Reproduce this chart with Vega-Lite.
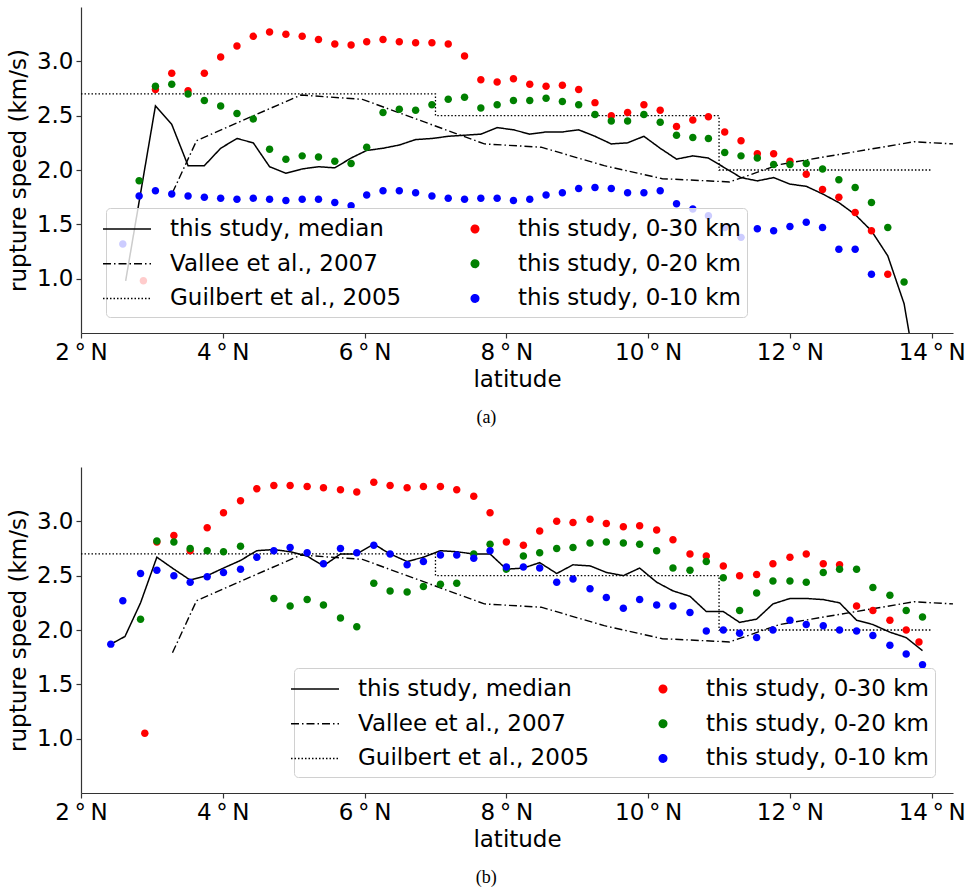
{
"$schema": "https://vega.github.io/schema/vega-lite/v6.json",
"background": "white",
"padding": {"left": 7, "top": 7, "right": 5, "bottom": 5},
"config": {
  "view": {"stroke": null},
  "font": "DejaVu Sans",
  "axis": {"labelFont": "DejaVu Sans", "labelFontSize": 23, "labelColor": "#000", "titleFont": "DejaVu Sans", "titleFontSize": 23, "titleFontWeight": "normal", "titleColor": "#000", "grid": false, "domainColor": "#333", "domainWidth": 1.2, "tickColor": "#333", "tickWidth": 1.2, "tickSize": 5, "labelFlush": false, "labelOverlap": false},
  "legend": {"orient": "none", "direction": "vertical", "columns": 2, "columnPadding": 58, "rowPadding": 7.7, "padding": 6, "fillColor": "rgba(255,255,255,0.8)", "strokeColor": "#d0d0d0", "strokeWidth": 1, "cornerRadius": 4, "labelFont": "DejaVu Sans", "labelFontSize": 23, "labelColor": "#000", "labelOffset": 28, "labelLimit": 400, "symbolSize": 812, "symbolStrokeWidth": 1.5}
},
"datasets": {
  "ref": [
    {"series": "guilbert", "ord": 1, "lat": 2, "speed": 2.7},
    {"series": "guilbert", "ord": 2, "lat": 7, "speed": 2.7},
    {"series": "guilbert", "ord": 3, "lat": 7, "speed": 2.5},
    {"series": "guilbert", "ord": 4, "lat": 11, "speed": 2.5},
    {"series": "guilbert", "ord": 5, "lat": 11, "speed": 2.0},
    {"series": "guilbert", "ord": 6, "lat": 14, "speed": 2.0},
    {"series": "vallee", "lat": 3.29, "speed": 1.79},
    {"series": "vallee", "lat": 3.63, "speed": 2.27},
    {"series": "vallee", "lat": 5.10, "speed": 2.69},
    {"series": "vallee", "lat": 5.97, "speed": 2.65},
    {"series": "vallee", "lat": 7.69, "speed": 2.24},
    {"series": "vallee", "lat": 8.49, "speed": 2.21},
    {"series": "vallee", "lat": 9.38, "speed": 2.04},
    {"series": "vallee", "lat": 10.2, "speed": 1.92},
    {"series": "vallee", "lat": 11.15, "speed": 1.89},
    {"series": "vallee", "lat": 11.85, "speed": 2.05},
    {"series": "vallee", "lat": 13.75, "speed": 2.26},
    {"series": "vallee", "lat": 14.3, "speed": 2.24}
  ],
  "a": [
    {"series": "median", "lat": 2.63, "speed": 0.98}, {"series": "median", "lat": 3.05, "speed": 2.59}, {"series": "median", "lat": 3.28, "speed": 2.42}, {"series": "median", "lat": 3.51, "speed": 2.04}, {"series": "median", "lat": 3.74, "speed": 2.04}, {"series": "median", "lat": 3.97, "speed": 2.20}, {"series": "median", "lat": 4.20, "speed": 2.29}, {"series": "median", "lat": 4.43, "speed": 2.25}, {"series": "median", "lat": 4.66, "speed": 2.03}, {"series": "median", "lat": 4.89, "speed": 1.97}, {"series": "median", "lat": 5.12, "speed": 2.01}, {"series": "median", "lat": 5.35, "speed": 2.03}, {"series": "median", "lat": 5.58, "speed": 2.02}, {"series": "median", "lat": 5.81, "speed": 2.11}, {"series": "median", "lat": 6.03, "speed": 2.18}, {"series": "median", "lat": 6.26, "speed": 2.20}, {"series": "median", "lat": 6.49, "speed": 2.23}, {"series": "median", "lat": 6.72, "speed": 2.28}, {"series": "median", "lat": 6.95, "speed": 2.29}, {"series": "median", "lat": 7.18, "speed": 2.31}, {"series": "median", "lat": 7.41, "speed": 2.32}, {"series": "median", "lat": 7.64, "speed": 2.33}, {"series": "median", "lat": 7.87, "speed": 2.39}, {"series": "median", "lat": 8.10, "speed": 2.37}, {"series": "median", "lat": 8.33, "speed": 2.33}, {"series": "median", "lat": 8.56, "speed": 2.35}, {"series": "median", "lat": 8.79, "speed": 2.35}, {"series": "median", "lat": 9.02, "speed": 2.37}, {"series": "median", "lat": 9.25, "speed": 2.31}, {"series": "median", "lat": 9.48, "speed": 2.24}, {"series": "median", "lat": 9.71, "speed": 2.25}, {"series": "median", "lat": 9.94, "speed": 2.31}, {"series": "median", "lat": 10.17, "speed": 2.20}, {"series": "median", "lat": 10.40, "speed": 2.10}, {"series": "median", "lat": 10.63, "speed": 2.13}, {"series": "median", "lat": 10.85, "speed": 2.11}, {"series": "median", "lat": 11.08, "speed": 2.02}, {"series": "median", "lat": 11.31, "speed": 1.93}, {"series": "median", "lat": 11.54, "speed": 1.90}, {"series": "median", "lat": 11.77, "speed": 1.93}, {"series": "median", "lat": 12.00, "speed": 1.87}, {"series": "median", "lat": 12.23, "speed": 1.85}, {"series": "median", "lat": 12.46, "speed": 1.78}, {"series": "median", "lat": 12.69, "speed": 1.70}, {"series": "median", "lat": 12.92, "speed": 1.59}, {"series": "median", "lat": 13.15, "speed": 1.44}, {"series": "median", "lat": 13.38, "speed": 1.21}, {"series": "median", "lat": 13.61, "speed": 0.77}, {"series": "median", "lat": 13.84, "speed": -0.10},
    {"series": "30", "lat": 2.88, "speed": 0.98}, {"series": "30", "lat": 3.05, "speed": 2.74}, {"series": "30", "lat": 3.28, "speed": 2.89}, {"series": "30", "lat": 3.51, "speed": 2.73}, {"series": "30", "lat": 3.74, "speed": 2.89}, {"series": "30", "lat": 3.97, "speed": 3.04}, {"series": "30", "lat": 4.20, "speed": 3.14}, {"series": "30", "lat": 4.43, "speed": 3.23}, {"series": "30", "lat": 4.66, "speed": 3.27}, {"series": "30", "lat": 4.89, "speed": 3.25}, {"series": "30", "lat": 5.12, "speed": 3.23}, {"series": "30", "lat": 5.35, "speed": 3.20}, {"series": "30", "lat": 5.58, "speed": 3.16}, {"series": "30", "lat": 5.81, "speed": 3.15}, {"series": "30", "lat": 6.03, "speed": 3.18}, {"series": "30", "lat": 6.26, "speed": 3.20}, {"series": "30", "lat": 6.49, "speed": 3.18}, {"series": "30", "lat": 6.72, "speed": 3.17}, {"series": "30", "lat": 6.95, "speed": 3.17}, {"series": "30", "lat": 7.18, "speed": 3.16}, {"series": "30", "lat": 7.41, "speed": 3.05}, {"series": "30", "lat": 7.64, "speed": 2.83}, {"series": "30", "lat": 7.87, "speed": 2.81}, {"series": "30", "lat": 8.10, "speed": 2.84}, {"series": "30", "lat": 8.33, "speed": 2.79}, {"series": "30", "lat": 8.56, "speed": 2.77}, {"series": "30", "lat": 8.79, "speed": 2.78}, {"series": "30", "lat": 9.02, "speed": 2.74}, {"series": "30", "lat": 9.25, "speed": 2.62}, {"series": "30", "lat": 9.48, "speed": 2.50}, {"series": "30", "lat": 9.71, "speed": 2.53}, {"series": "30", "lat": 9.94, "speed": 2.60}, {"series": "30", "lat": 10.17, "speed": 2.55}, {"series": "30", "lat": 10.40, "speed": 2.40}, {"series": "30", "lat": 10.63, "speed": 2.46}, {"series": "30", "lat": 10.85, "speed": 2.49}, {"series": "30", "lat": 11.08, "speed": 2.35}, {"series": "30", "lat": 11.31, "speed": 2.27}, {"series": "30", "lat": 11.54, "speed": 2.15}, {"series": "30", "lat": 11.77, "speed": 2.15}, {"series": "30", "lat": 12.00, "speed": 2.08}, {"series": "30", "lat": 12.23, "speed": 1.96}, {"series": "30", "lat": 12.46, "speed": 1.82}, {"series": "30", "lat": 12.69, "speed": 1.75}, {"series": "30", "lat": 12.92, "speed": 1.61}, {"series": "30", "lat": 13.15, "speed": 1.44}, {"series": "30", "lat": 13.38, "speed": 1.04},
    {"series": "20", "lat": 2.82, "speed": 1.90}, {"series": "20", "lat": 3.05, "speed": 2.77}, {"series": "20", "lat": 3.28, "speed": 2.79}, {"series": "20", "lat": 3.51, "speed": 2.70}, {"series": "20", "lat": 3.74, "speed": 2.64}, {"series": "20", "lat": 3.97, "speed": 2.59}, {"series": "20", "lat": 4.20, "speed": 2.52}, {"series": "20", "lat": 4.43, "speed": 2.47}, {"series": "20", "lat": 4.66, "speed": 2.19}, {"series": "20", "lat": 4.89, "speed": 2.10}, {"series": "20", "lat": 5.12, "speed": 2.13}, {"series": "20", "lat": 5.35, "speed": 2.12}, {"series": "20", "lat": 5.58, "speed": 2.08}, {"series": "20", "lat": 5.81, "speed": 2.06}, {"series": "20", "lat": 6.03, "speed": 2.21}, {"series": "20", "lat": 6.26, "speed": 2.53}, {"series": "20", "lat": 6.49, "speed": 2.56}, {"series": "20", "lat": 6.72, "speed": 2.55}, {"series": "20", "lat": 6.95, "speed": 2.60}, {"series": "20", "lat": 7.18, "speed": 2.65}, {"series": "20", "lat": 7.41, "speed": 2.67}, {"series": "20", "lat": 7.64, "speed": 2.57}, {"series": "20", "lat": 7.87, "speed": 2.60}, {"series": "20", "lat": 8.10, "speed": 2.64}, {"series": "20", "lat": 8.33, "speed": 2.64}, {"series": "20", "lat": 8.56, "speed": 2.66}, {"series": "20", "lat": 8.79, "speed": 2.63}, {"series": "20", "lat": 9.02, "speed": 2.60}, {"series": "20", "lat": 9.25, "speed": 2.51}, {"series": "20", "lat": 9.48, "speed": 2.45}, {"series": "20", "lat": 9.71, "speed": 2.45}, {"series": "20", "lat": 9.94, "speed": 2.51}, {"series": "20", "lat": 10.17, "speed": 2.44}, {"series": "20", "lat": 10.40, "speed": 2.32}, {"series": "20", "lat": 10.63, "speed": 2.30}, {"series": "20", "lat": 10.85, "speed": 2.29}, {"series": "20", "lat": 11.08, "speed": 2.16}, {"series": "20", "lat": 11.31, "speed": 2.13}, {"series": "20", "lat": 11.54, "speed": 2.11}, {"series": "20", "lat": 11.77, "speed": 2.05}, {"series": "20", "lat": 12.00, "speed": 2.05}, {"series": "20", "lat": 12.23, "speed": 2.06}, {"series": "20", "lat": 12.46, "speed": 2.01}, {"series": "20", "lat": 12.69, "speed": 1.91}, {"series": "20", "lat": 12.92, "speed": 1.84}, {"series": "20", "lat": 13.15, "speed": 1.70}, {"series": "20", "lat": 13.38, "speed": 1.47}, {"series": "20", "lat": 13.61, "speed": 0.97},
    {"series": "10", "lat": 2.59, "speed": 1.32}, {"series": "10", "lat": 2.82, "speed": 1.76}, {"series": "10", "lat": 3.05, "speed": 1.81}, {"series": "10", "lat": 3.28, "speed": 1.78}, {"series": "10", "lat": 3.51, "speed": 1.76}, {"series": "10", "lat": 3.74, "speed": 1.75}, {"series": "10", "lat": 3.97, "speed": 1.74}, {"series": "10", "lat": 4.20, "speed": 1.73}, {"series": "10", "lat": 4.43, "speed": 1.74}, {"series": "10", "lat": 4.66, "speed": 1.73}, {"series": "10", "lat": 4.89, "speed": 1.72}, {"series": "10", "lat": 5.12, "speed": 1.73}, {"series": "10", "lat": 5.35, "speed": 1.73}, {"series": "10", "lat": 5.58, "speed": 1.70}, {"series": "10", "lat": 5.81, "speed": 1.67}, {"series": "10", "lat": 6.03, "speed": 1.77}, {"series": "10", "lat": 6.26, "speed": 1.81}, {"series": "10", "lat": 6.49, "speed": 1.81}, {"series": "10", "lat": 6.72, "speed": 1.79}, {"series": "10", "lat": 6.95, "speed": 1.76}, {"series": "10", "lat": 7.18, "speed": 1.74}, {"series": "10", "lat": 7.41, "speed": 1.73}, {"series": "10", "lat": 7.64, "speed": 1.74}, {"series": "10", "lat": 7.87, "speed": 1.74}, {"series": "10", "lat": 8.10, "speed": 1.72}, {"series": "10", "lat": 8.33, "speed": 1.73}, {"series": "10", "lat": 8.56, "speed": 1.77}, {"series": "10", "lat": 8.79, "speed": 1.79}, {"series": "10", "lat": 9.02, "speed": 1.83}, {"series": "10", "lat": 9.25, "speed": 1.84}, {"series": "10", "lat": 9.48, "speed": 1.83}, {"series": "10", "lat": 9.71, "speed": 1.79}, {"series": "10", "lat": 9.94, "speed": 1.79}, {"series": "10", "lat": 10.17, "speed": 1.81}, {"series": "10", "lat": 10.40, "speed": 1.69}, {"series": "10", "lat": 10.63, "speed": 1.64}, {"series": "10", "lat": 10.85, "speed": 1.58}, {"series": "10", "lat": 11.08, "speed": 1.47}, {"series": "10", "lat": 11.31, "speed": 1.38}, {"series": "10", "lat": 11.54, "speed": 1.46}, {"series": "10", "lat": 11.77, "speed": 1.44}, {"series": "10", "lat": 12.00, "speed": 1.48}, {"series": "10", "lat": 12.23, "speed": 1.52}, {"series": "10", "lat": 12.46, "speed": 1.47}, {"series": "10", "lat": 12.69, "speed": 1.27}, {"series": "10", "lat": 12.92, "speed": 1.27}, {"series": "10", "lat": 13.15, "speed": 1.04}
  ],
  "b": [
    {"series": "median", "lat": 2.42, "speed": 1.87}, {"series": "median", "lat": 2.62, "speed": 1.94}, {"series": "median", "lat": 2.84, "speed": 2.25}, {"series": "median", "lat": 3.07, "speed": 2.67}, {"series": "median", "lat": 3.31, "speed": 2.56}, {"series": "median", "lat": 3.54, "speed": 2.46}, {"series": "median", "lat": 3.78, "speed": 2.50}, {"series": "median", "lat": 4.01, "speed": 2.57}, {"series": "median", "lat": 4.25, "speed": 2.64}, {"series": "median", "lat": 4.48, "speed": 2.73}, {"series": "median", "lat": 4.72, "speed": 2.74}, {"series": "median", "lat": 4.95, "speed": 2.72}, {"series": "median", "lat": 5.19, "speed": 2.68}, {"series": "median", "lat": 5.42, "speed": 2.59}, {"series": "median", "lat": 5.66, "speed": 2.70}, {"series": "median", "lat": 5.89, "speed": 2.70}, {"series": "median", "lat": 6.13, "speed": 2.79}, {"series": "median", "lat": 6.36, "speed": 2.70}, {"series": "median", "lat": 6.60, "speed": 2.63}, {"series": "median", "lat": 6.83, "speed": 2.67}, {"series": "median", "lat": 7.07, "speed": 2.73}, {"series": "median", "lat": 7.30, "speed": 2.72}, {"series": "median", "lat": 7.54, "speed": 2.70}, {"series": "median", "lat": 7.77, "speed": 2.70}, {"series": "median", "lat": 8.00, "speed": 2.56}, {"series": "median", "lat": 8.24, "speed": 2.57}, {"series": "median", "lat": 8.47, "speed": 2.62}, {"series": "median", "lat": 8.71, "speed": 2.52}, {"series": "median", "lat": 8.94, "speed": 2.60}, {"series": "median", "lat": 9.18, "speed": 2.59}, {"series": "median", "lat": 9.41, "speed": 2.53}, {"series": "median", "lat": 9.65, "speed": 2.50}, {"series": "median", "lat": 9.88, "speed": 2.57}, {"series": "median", "lat": 10.12, "speed": 2.44}, {"series": "median", "lat": 10.35, "speed": 2.36}, {"series": "median", "lat": 10.59, "speed": 2.31}, {"series": "median", "lat": 10.82, "speed": 2.17}, {"series": "median", "lat": 11.06, "speed": 2.17}, {"series": "median", "lat": 11.29, "speed": 2.07}, {"series": "median", "lat": 11.53, "speed": 2.10}, {"series": "median", "lat": 11.76, "speed": 2.24}, {"series": "median", "lat": 12.00, "speed": 2.29}, {"series": "median", "lat": 12.23, "speed": 2.29}, {"series": "median", "lat": 12.47, "speed": 2.28}, {"series": "median", "lat": 12.70, "speed": 2.25}, {"series": "median", "lat": 12.94, "speed": 2.09}, {"series": "median", "lat": 13.17, "speed": 2.05}, {"series": "median", "lat": 13.41, "speed": 1.98}, {"series": "median", "lat": 13.64, "speed": 1.93}, {"series": "median", "lat": 13.87, "speed": 1.81},
    {"series": "30", "lat": 2.90, "speed": 1.05}, {"series": "30", "lat": 3.07, "speed": 2.81}, {"series": "30", "lat": 3.31, "speed": 2.87}, {"series": "30", "lat": 3.54, "speed": 2.73}, {"series": "30", "lat": 3.78, "speed": 2.94}, {"series": "30", "lat": 4.01, "speed": 3.08}, {"series": "30", "lat": 4.25, "speed": 3.19}, {"series": "30", "lat": 4.48, "speed": 3.30}, {"series": "30", "lat": 4.72, "speed": 3.33}, {"series": "30", "lat": 4.95, "speed": 3.33}, {"series": "30", "lat": 5.19, "speed": 3.32}, {"series": "30", "lat": 5.42, "speed": 3.31}, {"series": "30", "lat": 5.66, "speed": 3.29}, {"series": "30", "lat": 5.89, "speed": 3.27}, {"series": "30", "lat": 6.13, "speed": 3.36}, {"series": "30", "lat": 6.36, "speed": 3.33}, {"series": "30", "lat": 6.60, "speed": 3.31}, {"series": "30", "lat": 6.83, "speed": 3.32}, {"series": "30", "lat": 7.07, "speed": 3.32}, {"series": "30", "lat": 7.30, "speed": 3.29}, {"series": "30", "lat": 7.54, "speed": 3.23}, {"series": "30", "lat": 7.77, "speed": 3.08}, {"series": "30", "lat": 8.00, "speed": 2.81}, {"series": "30", "lat": 8.24, "speed": 2.78}, {"series": "30", "lat": 8.47, "speed": 2.91}, {"series": "30", "lat": 8.71, "speed": 3.00}, {"series": "30", "lat": 8.94, "speed": 2.99}, {"series": "30", "lat": 9.18, "speed": 3.02}, {"series": "30", "lat": 9.41, "speed": 2.98}, {"series": "30", "lat": 9.65, "speed": 2.95}, {"series": "30", "lat": 9.88, "speed": 2.96}, {"series": "30", "lat": 10.12, "speed": 2.92}, {"series": "30", "lat": 10.35, "speed": 2.83}, {"series": "30", "lat": 10.59, "speed": 2.70}, {"series": "30", "lat": 10.82, "speed": 2.68}, {"series": "30", "lat": 11.06, "speed": 2.59}, {"series": "30", "lat": 11.29, "speed": 2.50}, {"series": "30", "lat": 11.53, "speed": 2.51}, {"series": "30", "lat": 11.76, "speed": 2.61}, {"series": "30", "lat": 12.00, "speed": 2.67}, {"series": "30", "lat": 12.23, "speed": 2.70}, {"series": "30", "lat": 12.47, "speed": 2.61}, {"series": "30", "lat": 12.70, "speed": 2.60}, {"series": "30", "lat": 12.94, "speed": 2.22}, {"series": "30", "lat": 13.17, "speed": 2.18}, {"series": "30", "lat": 13.41, "speed": 2.09}, {"series": "30", "lat": 13.64, "speed": 2.00}, {"series": "30", "lat": 13.82, "speed": 1.89},
    {"series": "20", "lat": 2.84, "speed": 2.10}, {"series": "20", "lat": 3.07, "speed": 2.82}, {"series": "20", "lat": 3.31, "speed": 2.81}, {"series": "20", "lat": 3.54, "speed": 2.75}, {"series": "20", "lat": 3.78, "speed": 2.73}, {"series": "20", "lat": 4.01, "speed": 2.72}, {"series": "20", "lat": 4.25, "speed": 2.77}, {"series": "20", "lat": 4.72, "speed": 2.29}, {"series": "20", "lat": 4.95, "speed": 2.22}, {"series": "20", "lat": 5.19, "speed": 2.28}, {"series": "20", "lat": 5.42, "speed": 2.23}, {"series": "20", "lat": 5.66, "speed": 2.11}, {"series": "20", "lat": 5.89, "speed": 2.03}, {"series": "20", "lat": 6.13, "speed": 2.43}, {"series": "20", "lat": 6.36, "speed": 2.36}, {"series": "20", "lat": 6.60, "speed": 2.35}, {"series": "20", "lat": 6.83, "speed": 2.40}, {"series": "20", "lat": 7.07, "speed": 2.42}, {"series": "20", "lat": 7.30, "speed": 2.43}, {"series": "20", "lat": 7.54, "speed": 2.70}, {"series": "20", "lat": 7.77, "speed": 2.79}, {"series": "20", "lat": 8.00, "speed": 2.56}, {"series": "20", "lat": 8.24, "speed": 2.68}, {"series": "20", "lat": 8.47, "speed": 2.71}, {"series": "20", "lat": 8.71, "speed": 2.75}, {"series": "20", "lat": 8.94, "speed": 2.76}, {"series": "20", "lat": 9.18, "speed": 2.80}, {"series": "20", "lat": 9.41, "speed": 2.81}, {"series": "20", "lat": 9.65, "speed": 2.80}, {"series": "20", "lat": 9.88, "speed": 2.79}, {"series": "20", "lat": 10.12, "speed": 2.73}, {"series": "20", "lat": 10.35, "speed": 2.57}, {"series": "20", "lat": 10.59, "speed": 2.55}, {"series": "20", "lat": 10.82, "speed": 2.63}, {"series": "20", "lat": 11.06, "speed": 2.48}, {"series": "20", "lat": 11.29, "speed": 2.18}, {"series": "20", "lat": 11.53, "speed": 2.34}, {"series": "20", "lat": 11.76, "speed": 2.45}, {"series": "20", "lat": 12.00, "speed": 2.45}, {"series": "20", "lat": 12.23, "speed": 2.44}, {"series": "20", "lat": 12.47, "speed": 2.53}, {"series": "20", "lat": 12.70, "speed": 2.56}, {"series": "20", "lat": 12.94, "speed": 2.56}, {"series": "20", "lat": 13.17, "speed": 2.39}, {"series": "20", "lat": 13.41, "speed": 2.32}, {"series": "20", "lat": 13.64, "speed": 2.18}, {"series": "20", "lat": 13.87, "speed": 2.12},
    {"series": "10", "lat": 2.42, "speed": 1.87}, {"series": "10", "lat": 2.59, "speed": 2.27}, {"series": "10", "lat": 2.84, "speed": 2.52}, {"series": "10", "lat": 3.07, "speed": 2.55}, {"series": "10", "lat": 3.31, "speed": 2.50}, {"series": "10", "lat": 3.54, "speed": 2.44}, {"series": "10", "lat": 3.78, "speed": 2.49}, {"series": "10", "lat": 4.01, "speed": 2.53}, {"series": "10", "lat": 4.25, "speed": 2.56}, {"series": "10", "lat": 4.48, "speed": 2.67}, {"series": "10", "lat": 4.72, "speed": 2.73}, {"series": "10", "lat": 4.95, "speed": 2.76}, {"series": "10", "lat": 5.19, "speed": 2.71}, {"series": "10", "lat": 5.42, "speed": 2.61}, {"series": "10", "lat": 5.66, "speed": 2.75}, {"series": "10", "lat": 5.89, "speed": 2.71}, {"series": "10", "lat": 6.13, "speed": 2.78}, {"series": "10", "lat": 6.36, "speed": 2.70}, {"series": "10", "lat": 6.60, "speed": 2.60}, {"series": "10", "lat": 6.83, "speed": 2.63}, {"series": "10", "lat": 7.07, "speed": 2.69}, {"series": "10", "lat": 7.30, "speed": 2.69}, {"series": "10", "lat": 7.54, "speed": 2.66}, {"series": "10", "lat": 7.77, "speed": 2.73}, {"series": "10", "lat": 8.00, "speed": 2.58}, {"series": "10", "lat": 8.24, "speed": 2.58}, {"series": "10", "lat": 8.47, "speed": 2.57}, {"series": "10", "lat": 8.71, "speed": 2.44}, {"series": "10", "lat": 8.94, "speed": 2.47}, {"series": "10", "lat": 9.18, "speed": 2.38}, {"series": "10", "lat": 9.41, "speed": 2.30}, {"series": "10", "lat": 9.65, "speed": 2.20}, {"series": "10", "lat": 9.88, "speed": 2.28}, {"series": "10", "lat": 10.12, "speed": 2.23}, {"series": "10", "lat": 10.35, "speed": 2.22}, {"series": "10", "lat": 10.59, "speed": 2.16}, {"series": "10", "lat": 10.82, "speed": 1.99}, {"series": "10", "lat": 11.06, "speed": 2.00}, {"series": "10", "lat": 11.29, "speed": 1.97}, {"series": "10", "lat": 11.53, "speed": 1.93}, {"series": "10", "lat": 11.76, "speed": 2.00}, {"series": "10", "lat": 12.00, "speed": 2.09}, {"series": "10", "lat": 12.23, "speed": 2.05}, {"series": "10", "lat": 12.47, "speed": 2.04}, {"series": "10", "lat": 12.70, "speed": 2.00}, {"series": "10", "lat": 12.94, "speed": 1.99}, {"series": "10", "lat": 13.17, "speed": 1.95}, {"series": "10", "lat": 13.41, "speed": 1.86}, {"series": "10", "lat": 13.64, "speed": 1.78}, {"series": "10", "lat": 13.87, "speed": 1.68}
  ]
},
"spacing": 40,
"resolve": {"scale": {"color": "independent", "strokeDash": "independent", "shape": "independent"}, "legend": {"color": "independent", "strokeDash": "independent", "shape": "independent"}},
"vconcat": [
  {
    "width": 872, "height": 326,
    "title": {"text": "(a)", "orient": "bottom", "font": "Liberation Serif", "fontSize": 18, "fontWeight": "normal", "color": "#000", "frame": "bounds", "anchor": "middle", "offset": 18},
    "encoding": {
      "x": {"field": "lat", "type": "quantitative", "scale": {"domain": [2, 14.3], "nice": false, "zero": false}, "axis": {"values": [2, 4, 6, 8, 10, 12, 14], "labelExpr": "datum.value + '\u2009°\u2009N'", "title": "latitude", "labelPadding": 3, "titlePadding": 4}},
      "y": {"field": "speed", "type": "quantitative", "scale": {"domain": [0.5, 3.5], "nice": false, "zero": false}, "axis": {"values": [1, 1.5, 2, 2.5, 3], "format": ".1f", "title": "rupture speed (km/s)", "labelPadding": 3, "titlePadding": 6}},
      "color": {"field": "series", "type": "nominal",
        "scale": {"domain": ["median", "vallee", "guilbert", "30", "20", "10"], "range": ["#000000", "#000000", "#000000", "#ff0000", "#008000", "#0000ff"]},
        "legend": {"title": null, "legendX": 25, "legendY": 201, "labelExpr": "datum.value === 'median' ? 'this study, median' : datum.value === 'vallee' ? 'Vallee et al., 2007' : datum.value === 'guilbert' ? 'Guilbert et al., 2005' : 'this study, 0-' + datum.value + ' km'"}},
      "strokeDash": {"field": "series", "type": "nominal",
        "scale": {"domain": ["median", "vallee", "guilbert", "30", "20", "10"], "range": [[1, 0], [8, 3, 1.5, 3], [1.5, 2], [1, 0], [1, 0], [1, 0]]},
        "legend": {"title": null, "legendX": 25, "legendY": 201, "labelExpr": "datum.value === 'median' ? 'this study, median' : datum.value === 'vallee' ? 'Vallee et al., 2007' : datum.value === 'guilbert' ? 'Guilbert et al., 2005' : 'this study, 0-' + datum.value + ' km'"}},
      "shape": {"field": "series", "type": "nominal",
        "scale": {"domain": ["median", "vallee", "guilbert", "30", "20", "10"], "range": ["M -1.684 0 L 1.684 0", "M -1.684 0 L 1.684 0", "M -1.684 0 L 1.684 0", "M -0.263 0 A 0.263 0.263 0 1 0 0.263 0 A 0.263 0.263 0 1 0 -0.263 0 Z", "M -0.263 0 A 0.263 0.263 0 1 0 0.263 0 A 0.263 0.263 0 1 0 -0.263 0 Z", "M -0.263 0 A 0.263 0.263 0 1 0 0.263 0 A 0.263 0.263 0 1 0 -0.263 0 Z"]},
        "legend": {"title": null, "legendX": 25, "legendY": 201, "labelExpr": "datum.value === 'median' ? 'this study, median' : datum.value === 'vallee' ? 'Vallee et al., 2007' : datum.value === 'guilbert' ? 'Guilbert et al., 2005' : 'this study, 0-' + datum.value + ' km'"}}
    },
    "layer": [
      {"data": {"name": "ref"}, "transform": [{"filter": "datum.series === 'guilbert'"}], "mark": {"type": "line", "strokeWidth": 1.3, "clip": true}, "encoding": {"order": {"field": "ord", "type": "quantitative"}}},
      {"data": {"name": "ref"}, "transform": [{"filter": "datum.series === 'vallee'"}], "mark": {"type": "line", "strokeWidth": 1.4, "clip": true}, "encoding": {}},
      {"data": {"name": "a"}, "transform": [{"filter": "datum.series === 'median'"}], "mark": {"type": "line", "strokeWidth": 1.5, "clip": true}, "encoding": {}},
      {"data": {"name": "a"}, "transform": [{"filter": "datum.series !== 'median'"}], "mark": {"type": "point", "filled": true, "size": 812, "opacity": 1, "strokeWidth": 0}, "encoding": {}}
    ]
  },
  {
    "width": 872, "height": 326,
    "title": {"text": "(b)", "orient": "bottom", "font": "Liberation Serif", "fontSize": 18, "fontWeight": "normal", "color": "#000", "frame": "bounds", "anchor": "middle", "offset": 18},
    "encoding": {
      "x": {"field": "lat", "type": "quantitative", "scale": {"domain": [2, 14.3], "nice": false, "zero": false}, "axis": {"values": [2, 4, 6, 8, 10, 12, 14], "labelExpr": "datum.value + '\u2009°\u2009N'", "title": "latitude", "labelPadding": 3, "titlePadding": 4}},
      "y": {"field": "speed", "type": "quantitative", "scale": {"domain": [0.5, 3.5], "nice": false, "zero": false}, "axis": {"values": [1, 1.5, 2, 2.5, 3], "format": ".1f", "title": "rupture speed (km/s)", "labelPadding": 3, "titlePadding": 6}},
      "color": {"field": "series", "type": "nominal",
        "scale": {"domain": ["median", "vallee", "guilbert", "30", "20", "10"], "range": ["#000000", "#000000", "#000000", "#ff0000", "#008000", "#0000ff"]},
        "legend": {"title": null, "legendX": 213, "legendY": 201, "labelExpr": "datum.value === 'median' ? 'this study, median' : datum.value === 'vallee' ? 'Vallee et al., 2007' : datum.value === 'guilbert' ? 'Guilbert et al., 2005' : 'this study, 0-' + datum.value + ' km'"}},
      "strokeDash": {"field": "series", "type": "nominal",
        "scale": {"domain": ["median", "vallee", "guilbert", "30", "20", "10"], "range": [[1, 0], [8, 3, 1.5, 3], [1.5, 2], [1, 0], [1, 0], [1, 0]]},
        "legend": {"title": null, "legendX": 213, "legendY": 201, "labelExpr": "datum.value === 'median' ? 'this study, median' : datum.value === 'vallee' ? 'Vallee et al., 2007' : datum.value === 'guilbert' ? 'Guilbert et al., 2005' : 'this study, 0-' + datum.value + ' km'"}},
      "shape": {"field": "series", "type": "nominal",
        "scale": {"domain": ["median", "vallee", "guilbert", "30", "20", "10"], "range": ["M -1.684 0 L 1.684 0", "M -1.684 0 L 1.684 0", "M -1.684 0 L 1.684 0", "M -0.263 0 A 0.263 0.263 0 1 0 0.263 0 A 0.263 0.263 0 1 0 -0.263 0 Z", "M -0.263 0 A 0.263 0.263 0 1 0 0.263 0 A 0.263 0.263 0 1 0 -0.263 0 Z", "M -0.263 0 A 0.263 0.263 0 1 0 0.263 0 A 0.263 0.263 0 1 0 -0.263 0 Z"]},
        "legend": {"title": null, "legendX": 213, "legendY": 201, "labelExpr": "datum.value === 'median' ? 'this study, median' : datum.value === 'vallee' ? 'Vallee et al., 2007' : datum.value === 'guilbert' ? 'Guilbert et al., 2005' : 'this study, 0-' + datum.value + ' km'"}}
    },
    "layer": [
      {"data": {"name": "ref"}, "transform": [{"filter": "datum.series === 'guilbert'"}], "mark": {"type": "line", "strokeWidth": 1.3, "clip": true}, "encoding": {"order": {"field": "ord", "type": "quantitative"}}},
      {"data": {"name": "ref"}, "transform": [{"filter": "datum.series === 'vallee'"}], "mark": {"type": "line", "strokeWidth": 1.4, "clip": true}, "encoding": {}},
      {"data": {"name": "b"}, "transform": [{"filter": "datum.series === 'median'"}], "mark": {"type": "line", "strokeWidth": 1.5, "clip": true}, "encoding": {}},
      {"data": {"name": "b"}, "transform": [{"filter": "datum.series !== 'median'"}], "mark": {"type": "point", "filled": true, "size": 812, "opacity": 1, "strokeWidth": 0}, "encoding": {}}
    ]
  }
]
}
